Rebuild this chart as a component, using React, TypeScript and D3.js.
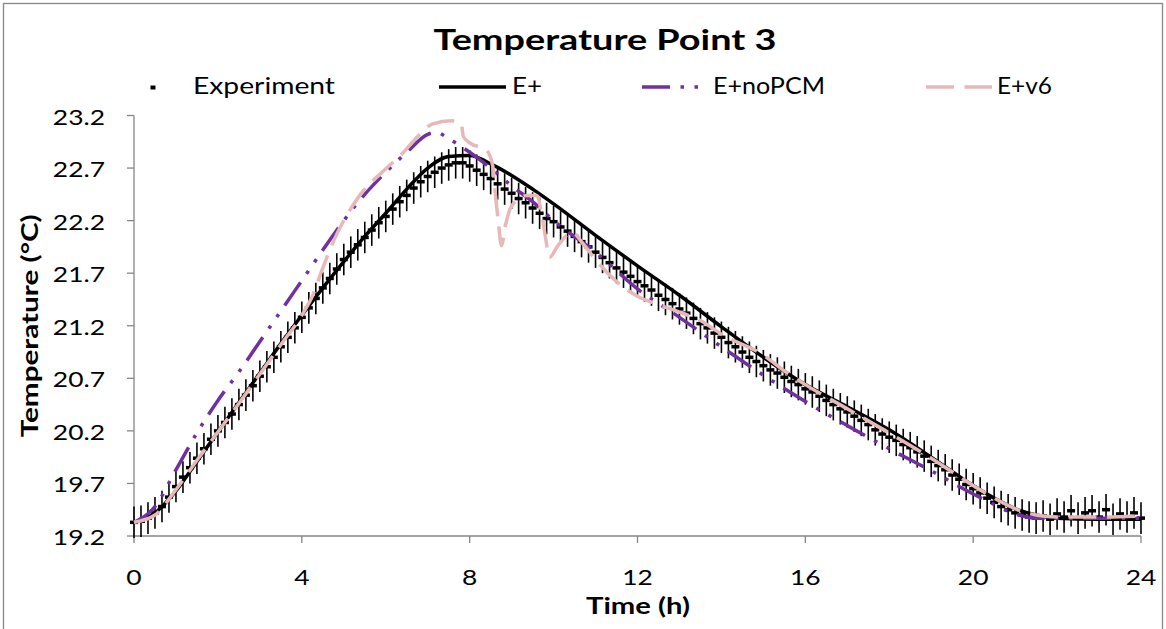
import React from 'react';
import * as d3 from 'd3';

// ---------- data ----------
const expStepMinutes = 10;
const experimentValues = [
  19.33, 19.34, 19.37, 19.42, 19.48, 19.57,
  19.67, 19.76, 19.85, 19.94, 20.03, 20.12,
  20.20, 20.28, 20.36, 20.45, 20.54, 20.63,
  20.72, 20.81, 20.90, 21.00, 21.09, 21.18,
  21.28, 21.37, 21.46, 21.56, 21.65, 21.74,
  21.83, 21.90, 21.97, 22.04, 22.11, 22.18,
  22.24, 22.31, 22.38, 22.44, 22.51, 22.57,
  22.62, 22.66, 22.70, 22.73, 22.75, 22.75,
  22.72, 22.68, 22.64, 22.60, 22.55, 22.50,
  22.46, 22.41, 22.37, 22.32, 22.27, 22.22,
  22.19, 22.14, 22.10, 22.05, 22.00, 21.95,
  21.90, 21.85, 21.80, 21.75, 21.71, 21.67,
  21.62, 21.58, 21.54, 21.49, 21.45, 21.41,
  21.36, 21.32, 21.27, 21.22, 21.18, 21.13,
  21.09, 21.04, 21.00, 20.95, 20.90, 20.86,
  20.82, 20.78, 20.75, 20.71, 20.67, 20.64,
  20.60, 20.57, 20.53, 20.49, 20.45, 20.41,
  20.38, 20.34, 20.30, 20.26, 20.21, 20.17,
  20.14, 20.11, 20.07, 20.04, 20.00, 19.96,
  19.91, 19.87, 19.83, 19.78, 19.74, 19.69,
  19.65, 19.61, 19.56, 19.52, 19.48, 19.45,
  19.42, 19.40, 19.38, 19.37, 19.39, 19.36,
  19.41, 19.38, 19.44, 19.37, 19.42, 19.44,
  19.38, 19.45, 19.36, 19.41, 19.38, 19.42,
  19.37,
];
const experimentError = 0.15;

const eplusTime = [0, 0.5, 1, 1.5, 2, 2.5, 3, 3.5, 4, 4.5, 5, 5.5, 6, 6.5, 7, 7.5, 8, 8.5, 9, 9.5, 10, 11, 12, 13, 14, 15, 16, 17, 18, 19, 20, 20.5, 21, 21.5, 22, 23, 24];
const eplusValues = [19.33, 19.42, 19.63, 19.91, 20.19, 20.47, 20.75, 21.03, 21.30, 21.56, 21.81, 22.05, 22.27, 22.50, 22.70, 22.81, 22.82, 22.74, 22.63, 22.50, 22.36, 22.06, 21.77, 21.49, 21.19, 20.90, 20.64, 20.43, 20.21, 19.95, 19.68, 19.56, 19.46, 19.40, 19.37, 19.36, 19.36];

const noPcmTime = [0, 0.5, 1, 1.5, 2, 2.5, 3, 3.5, 4, 4.5, 5, 5.5, 6, 6.5, 7, 7.2, 7.5, 8, 8.5, 9, 9.5, 10, 11, 12, 13, 14, 15, 16, 17, 18, 19, 20, 20.5, 21, 21.5, 22, 23, 24];
const noPcmValues = [19.33, 19.48, 19.83, 20.18, 20.49, 20.76, 21.05, 21.34, 21.63, 21.92, 22.20, 22.45, 22.66, 22.85, 23.02, 23.04, 22.98, 22.85, 22.70, 22.53, 22.38, 22.20, 21.90, 21.55, 21.28, 21.00, 20.73, 20.48, 20.25, 20.03, 19.82, 19.60, 19.50, 19.41, 19.37, 19.37, 19.37, 19.37];

const v6Time = [0, 0.5, 1, 1.5, 2, 2.5, 3, 3.5, 4, 4.25, 4.5, 4.75, 5.07, 5.38, 6.02, 6.4, 6.76, 7.12, 7.57, 7.8, 7.85, 8.0, 8.4, 8.55, 8.6, 8.68, 8.76, 8.85, 9.0, 9.36, 9.6, 9.7, 9.8, 9.9, 10.1, 10.45, 10.7, 11, 11.5, 12, 12.5, 13, 13.5, 14, 15, 15.5, 16, 17, 18, 19, 20, 20.5, 21, 21.5, 22, 23, 24];
const v6Values = [19.33, 19.40, 19.64, 19.92, 20.19, 20.46, 20.74, 21.02, 21.30, 21.48, 21.75, 22.00, 22.25, 22.44, 22.70, 22.84, 23.00, 23.12, 23.15, 23.12, 23.00, 22.94, 22.87, 22.72, 22.50, 22.20, 21.96, 22.15, 22.34, 22.44, 22.44, 22.30, 22.06, 21.85, 21.96, 22.09, 21.98, 21.83, 21.62, 21.48, 21.40, 21.33, 21.25, 21.12, 20.92, 20.77, 20.64, 20.41, 20.18, 19.94, 19.68, 19.56, 19.46, 19.40, 19.38, 19.38, 19.39];

const xTicks = [0, 4, 8, 12, 16, 20, 24];
const yTicks = [19.2, 19.7, 20.2, 20.7, 21.2, 21.7, 22.2, 22.7, 23.2];

const seriesNames = ['Experiment', 'E+', 'E+noPCM', 'E+v6'];
const titleText = 'Temperature Point 3';
const xTitle = 'Time (h)';
const yTitle = 'Temperature (°C)';

// ---------- styles ----------
const FONT = "Lato, 'Open Sans', sans-serif";
const GRAY = '#868686';
const PURPLE = '#7030A0';
const PINK = '#E6B9B8';
const LW = 3.5;
const DASH_DOT_DOT = `${8 * LW} ${3 * LW} ${LW} ${3 * LW} ${LW} ${3 * LW}`;
const LONG_DASH = `${8 * LW} ${3 * LW}`;

type Pt = [number, number];

export default function App() {
  const W = 1166;
  const H = 629;
  const x = d3.scaleLinear().domain([0, 24]).range([134, 1141]);
  const y = d3.scaleLinear().domain([19.2, 23.2]).range([536, 115.5]);

  const line = d3
    .line<Pt>()
    .x((d) => x(d[0]))
    .y((d) => y(d[1]))
    .curve(d3.curveMonotoneX);

  const expPts: Pt[] = experimentValues.map((v, i) => [(i * expStepMinutes) / 60, v]);
  const eplusPts: Pt[] = eplusTime.map((t, i) => [t, eplusValues[i]]);
  const noPcmPts: Pt[] = noPcmTime.map((t, i) => [t, noPcmValues[i]]);
  const v6Pts: Pt[] = v6Time.map((t, i) => [t, v6Values[i]]);

  const tickSx = 1.2;

  return (
    <svg
      width={W}
      height={H}
      style={{ position: 'absolute', left: 0, top: 0, background: '#fff' }}
      fontFamily={FONT}
    >
      <rect x={0} y={0} width={W} height={H} fill="#fff" />
      {/* outer chart border */}
      <rect x={3.5} y={3.5} width={1159} height={700} fill="none" stroke={GRAY} strokeWidth={1.3} />

      {/* title */}
      <text
        x={605}
        y={50}
        textAnchor="middle"
        fontSize={29}
        fontWeight="bold"
        textLength={343}
        lengthAdjust="spacingAndGlyphs"
      >
        {titleText}
      </text>

      {/* legend */}
      <g>
        <rect x={150.5} y={85.5} width={5} height={4} fill="#000" />
        <text x={193} y={94} fontSize={22.5} textLength={142} lengthAdjust="spacingAndGlyphs">
          {seriesNames[0]}
        </text>
        <line x1={439} x2={506} y1={87} y2={87} stroke="#000" strokeWidth={LW} />
        <text x={512} y={94} fontSize={22.5} textLength={30} lengthAdjust="spacingAndGlyphs">
          {seriesNames[1]}
        </text>
        <line x1={642} x2={702} y1={87} y2={87} stroke={PURPLE} strokeWidth={LW} strokeDasharray={DASH_DOT_DOT} />
        <text x={713} y={94} fontSize={22.5} textLength={112} lengthAdjust="spacingAndGlyphs">
          {seriesNames[2]}
        </text>
        <line x1={926} x2={992} y1={87} y2={87} stroke={PINK} strokeWidth={LW} strokeDasharray={LONG_DASH} />
        <text x={997} y={94} fontSize={22.5} textLength={55} lengthAdjust="spacingAndGlyphs">
          {seriesNames[3]}
        </text>
      </g>

      {/* axes */}
      <g stroke={GRAY} strokeWidth={1.3} fill="none">
        <line x1={x(0)} x2={x(0)} y1={y(23.2)} y2={y(19.2)} />
        <line x1={x(0)} x2={x(24)} y1={y(19.2)} y2={y(19.2)} />
        {yTicks.map((t) => (
          <line key={'yt' + t} x1={x(0) - 7} x2={x(0)} y1={y(t)} y2={y(t)} />
        ))}
        {xTicks.map((t) => (
          <line key={'xt' + t} x1={x(t)} x2={x(t)} y1={y(19.2)} y2={y(19.2) + 7} />
        ))}
      </g>
      <g fontSize={22} fill="#000">
        {yTicks.map((t) => (
          <text
            key={'yl' + t}
            transform={`translate(${x(0) - 29},${y(t) + 9}) scale(${tickSx},1)`}
            textAnchor="end"
          >
            {t.toFixed(1)}
          </text>
        ))}
        {xTicks.map((t) => (
          <text
            key={'xl' + t}
            transform={`translate(${x(t)},${585}) scale(${tickSx},1)`}
            textAnchor="middle"
          >
            {t}
          </text>
        ))}
      </g>

      {/* axis titles */}
      <text
        x={638}
        y={614}
        textAnchor="middle"
        fontSize={22}
        fontWeight="bold"
        textLength={104}
        lengthAdjust="spacingAndGlyphs"
      >
        {xTitle}
      </text>
      <text
        transform={`translate(38,${(y(19.2) + y(23.2)) / 2}) rotate(-90)`}
        textAnchor="middle"
        fontSize={22}
        fontWeight="bold"
        textLength={223}
        lengthAdjust="spacingAndGlyphs"
      >
        {yTitle}
      </text>

      {/* experiment: error bars + dash markers */}
      <g>
        {expPts.map((d, i) => (
          <line
            key={'eb' + i}
            x1={x(d[0])}
            x2={x(d[0])}
            y1={y(d[1] - experimentError)}
            y2={y(d[1] + experimentError)}
            stroke="#000"
            strokeWidth={1.6}
          />
        ))}
        {expPts.map((d, i) => (
          <rect key={'em' + i} x={x(d[0]) - 4} y={y(d[1]) - 1.75} width={8} height={3.5} fill="#000" />
        ))}
      </g>

      {/* model lines */}
      <path d={line(eplusPts) || ''} fill="none" stroke="#000" strokeWidth={LW} strokeLinejoin="round" />
      <path
        d={line(noPcmPts) || ''}
        fill="none"
        stroke={PURPLE}
        strokeWidth={LW}
        strokeDasharray={DASH_DOT_DOT}
        strokeLinejoin="round"
      />
      <path
        d={line(v6Pts) || ''}
        fill="none"
        stroke={PINK}
        strokeWidth={LW}
        strokeDasharray={LONG_DASH}
        strokeLinejoin="round"
      />
    </svg>
  );
}
